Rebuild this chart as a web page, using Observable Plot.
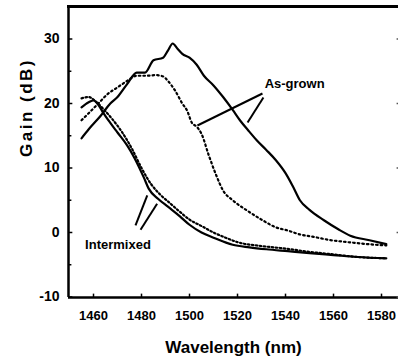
<!DOCTYPE html>
<html><head><meta charset="utf-8">
<script src="https://cdn.jsdelivr.net/npm/d3@7"></script>
<script src="https://cdn.jsdelivr.net/npm/@observablehq/plot@0.6"></script>
<style>body{margin:0;background:#fff} #chart svg{display:block}</style>
</head><body><div id="chart"></div><pre id="note" style="position:fixed;left:0;top:0;margin:0;font-size:1px;color:transparent"></pre>
<script>
// As-grown, solid
const asGrownSolidX = [1455,1458,1463,1467,1470,1474,1478,1481.5,1485,1489,1491,1493,1495,1497,1500,1503,1506,1510,1514,1518,1521,1525,1528,1532,1536,1540,1543,1546,1550,1556,1562,1567,1575,1582];
const asGrownSolidY = [14.6,16,18.1,20,21,23,24.8,24.8,26.7,27.1,28.2,29.3,28.5,27.7,27.1,26,24.3,22.8,21,19,17.4,15.6,14.3,12.8,11.2,9.2,7.2,5,3.5,1.9,0.5,-0.5,-1.2,-1.8];
// As-grown, dotted
const asGrownDotX = [1455,1458,1462,1466,1470,1474,1478,1482,1486,1489,1491,1494,1497,1499,1501,1503,1505,1508,1511,1514,1518,1524,1530,1536,1541,1546,1552,1559,1566,1574,1582];
const asGrownDotY = [17.4,18.5,20,21.5,22.5,23.5,24.3,24.3,24.4,24.2,23.5,22,20,18.9,17,16.4,15.3,12,9,6.5,5,3.4,2,0.8,0.3,-0.3,-0.7,-1.2,-1.5,-1.8,-2.0];
// Intermixed, solid
const interSolidX = [1455,1458,1460,1462,1464,1467,1470,1474,1477,1481,1483,1487,1491,1496,1500,1505,1510,1518,1525,1532,1541,1550,1560,1570,1582];
const interSolidY = [19.4,20.2,20.5,19.8,18.6,17,15.5,13.5,11.6,8.5,6.8,5.2,4,2.5,1.2,0,-0.8,-1.9,-2.3,-2.6,-2.9,-3.2,-3.5,-3.8,-4.0];
// Intermixed, dotted
const interDotX = [1455,1458,1461,1464,1468,1472,1476,1480,1484,1488,1492,1496,1500,1505,1510,1515,1520,1530,1540,1550,1560,1570,1582];
const interDotY = [20.8,21.0,20.3,19.2,17.5,15.5,13,10,7.5,5.8,4.5,3.2,2,1,0,-0.8,-1.5,-2.1,-2.5,-3.0,-3.4,-3.8,-4.0];

const xTicks = [1460,1480,1500,1520,1540,1560,1580];
const xTickLabels = ["1460","1480","1500","1520","1540","1560","1580"];
const yTicks = [-10,0,10,20,30];
const yTickLabels = ["-10","0","10","20","30"];
const yMinorTicks = [-5,5,15,25];
const xLabel = "Wavelength (nm)";
const yLabel = "Gain (dB)";

// annotations
const noteText = ["As-grown","Intermixed"];
const noteX = [1543.8,1470.2];
const noteY = [23.1,-1.9];
const leaderX1 = [1530.4,1530.8,1482.4,1486.5];
const leaderY1 = [21.55,20.93,5.74,4.45];
const leaderX2 = [1503.3,1524.2,1477.5,1479.6];
const leaderY2 = [16.59,17.05,1.09,0.43];

const X0 = 1449.58, X1 = 1587.08, Y0 = -10.08, Y1 = 35.04;

const toPts = (xs, ys) => xs.map((x, i) => ({x, y: ys[i]}));
const notes = noteText.map((t, i) => ({t, x: noteX[i], y: noteY[i]}));
const leaders = leaderX1.map((x1, i) => ({x1, y1: leaderY1[i], x2: leaderX2[i], y2: leaderY2[i]}));
const xFmt = d => xTickLabels[xTicks.indexOf(d)];
const yFmt = d => yTickLabels[yTicks.indexOf(d)];

const font = "Liberation Sans, Arial, Helvetica, sans-serif";

const chart = Plot.plot({
  width: 398, height: 362,
  marginLeft: 68, marginRight: 0, marginTop: 6, marginBottom: 65,
  x: {domain: [X0, X1]},
  y: {domain: [Y0, Y1]},
  style: {fontFamily: font, background: "#fff", color: "#000"},
  marks: [
    Plot.axisX(xTicks, {tickSize: 0, tickPadding: 13, tickFormat: xFmt, fontSize: 13, fontWeight: "bold", label: null}),
    Plot.axisY(yTicks, {tickSize: 0, tickPadding: 9, tickFormat: yFmt, fontSize: 14, fontWeight: "bold", label: null}),
    Plot.ruleX([X0], {stroke: "#000", strokeWidth: 2.5}),
    Plot.ruleY([Y0], {stroke: "#000", strokeWidth: 2.5}),
    Plot.ruleY([Y1], {stroke: "#000", strokeWidth: 3}),
    Plot.link(xTicks, {x1: d => d, x2: d => d, y1: () => Y0, y2: () => Y0 + 0.6, stroke: "#000", strokeWidth: 1.5}),
    Plot.link(yTicks, {y1: d => d, y2: d => d, x1: () => X0, x2: () => X0 + 1.6, stroke: "#000", strokeWidth: 1.5}),
    Plot.link(yMinorTicks, {y1: d => d, y2: d => d, x1: () => X0, x2: () => X0 + 1.2, stroke: "#000", strokeWidth: 1.5}),
    Plot.link(yTicks, {y1: d => d, y2: d => d, x1: () => X1 - 0.8, x2: () => X1, stroke: "#555", strokeWidth: 1.5}),
    Plot.line(toPts(asGrownSolidX, asGrownSolidY), {x: "x", y: "y", stroke: "#000", strokeWidth: 2.2, curve: "monotone-x"}),
    Plot.line(toPts(asGrownDotX, asGrownDotY), {x: "x", y: "y", stroke: "#000", strokeWidth: 2.2, strokeDasharray: "1.6,3", curve: "monotone-x"}),
    Plot.line(toPts(interSolidX, interSolidY), {x: "x", y: "y", stroke: "#000", strokeWidth: 2.2, curve: "monotone-x"}),
    Plot.line(toPts(interDotX, interDotY), {x: "x", y: "y", stroke: "#000", strokeWidth: 2.2, strokeDasharray: "1.6,2.4", curve: "monotone-x"}),
    Plot.link(leaders, {x1: "x1", y1: "y1", x2: "x2", y2: "y2", stroke: "#000", strokeWidth: 2}),
    Plot.text(notes, {x: "x", y: "y", text: "t", fontSize: 13, fontWeight: "bold", textAnchor: "middle", lineAnchor: "middle", fill: "#000"}),
    Plot.text([xLabel], {frameAnchor: "bottom", dy: 50, text: d => d, fontSize: 17, fontWeight: "bold", lineAnchor: "middle", fill: "#000"}),
    Plot.text([yLabel], {frameAnchor: "left", dx: -42, dy: 5, rotate: -90, text: d => d, fontSize: 17, fontWeight: "bold", lineAnchor: "middle", fill: "#000"}),
    Plot.frame({anchor: "top", stroke: "#000", strokeWidth: 3})
  ]
});
chart.querySelectorAll("text").forEach(t => { if (t.textContent === yLabel) t.setAttribute("letter-spacing", "2.5"); });
document.getElementById("chart").appendChild(chart);
const r = chart.getBoundingClientRect();
document.getElementById("note").textContent = " " + Math.round(r.width);
</script>
</body></html>
